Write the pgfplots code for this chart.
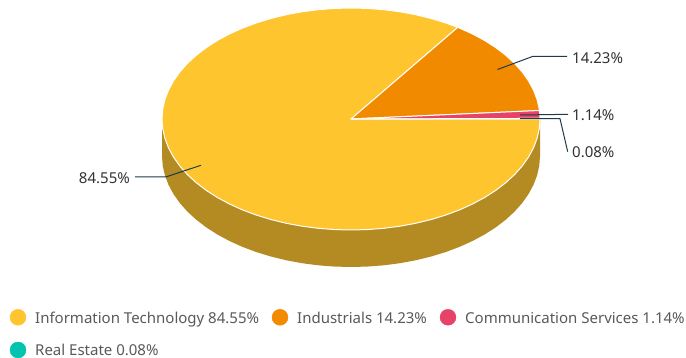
\documentclass[border=0pt]{standalone}
\usepackage{pgfplots}
\usepackage{fontspec}
\setmainfont{Noto Sans}
\pgfplotsset{compat=1.18}
\definecolor{cIT}{HTML}{FFC52E}
\definecolor{cIN}{HTML}{F28A00}
\definecolor{cCS}{HTML}{E64369}
\definecolor{cRE}{HTML}{00C4B0}
\definecolor{cSide}{HTML}{B38B22}
\definecolor{cLead}{HTML}{1F3A4A}
\definecolor{cLab}{HTML}{333333}
\definecolor{cLeg}{HTML}{595959}
\begin{document}
\begin{tikzpicture}
\path[use as bounding box] (0,0) rectangle (686pt,358pt);
\begin{axis}[
  at={(0,0)}, anchor=south west,
  scale only axis, width=686pt, height=358pt,
  xmin=0, xmax=686, ymin=0, ymax=358,
  hide axis, clip=false,
  every axis plot/.append style={line join=round}
]
% side wall
\addplot[fill=cSide, draw=none] coordinates {
(162,239)(162,202)(162.72,192.33)(164.87,182.72)(168.44,173.27)(173.40,164.04)(179.71,155.09)(187.32,146.50)(196.18,138.33)(206.22,130.65)(217.36,123.51)(229.51,116.97)(242.59,111.07)(256.50,105.87)(271.13,101.40)(286.36,97.69)(302.08,94.78)(318.18,92.69)(334.53,91.42)(351,91)(367.47,91.42)(383.82,92.69)(399.92,94.78)(415.64,97.69)(430.87,101.40)(445.50,105.87)(459.41,111.07)(472.49,116.97)(484.64,123.51)(495.78,130.65)(505.82,138.33)(514.68,146.50)(522.29,155.09)(528.60,164.04)(533.56,173.27)(537.13,182.72)(539.28,192.33)(540,202)(540,239)
} --cycle;
% Information Technology
\addplot[fill=cIT, draw=white, line width=1pt] coordinates {
(351,239)(540,239)(539.28,229.33)(537.13,219.72)(533.56,210.27)(528.60,201.04)(522.29,192.09)(514.68,183.50)(505.82,175.33)(495.78,167.65)(484.64,160.51)(472.49,153.97)(459.41,148.07)(445.50,142.87)(430.87,138.40)(415.64,134.69)(399.92,131.78)(383.82,129.69)(367.47,128.42)(351,128)(334.53,128.42)(318.18,129.69)(302.08,131.78)(286.36,134.69)(271.13,138.40)(256.50,142.87)(242.59,148.07)(229.51,153.97)(217.36,160.51)(206.22,167.65)(196.18,175.33)(187.32,183.50)(179.71,192.09)(173.40,201.04)(168.44,210.27)(164.87,219.72)(162.72,229.33)(162,239)(162.72,248.67)(164.87,258.28)(168.44,267.73)(173.40,276.96)(179.71,285.91)(187.32,294.50)(196.18,302.67)(206.22,310.35)(217.36,317.49)(229.51,324.03)(242.59,329.93)(256.50,335.13)(271.13,339.60)(286.36,343.31)(302.08,346.22)(318.18,348.31)(334.53,349.58)(351,350)(367.47,349.58)(383.82,348.31)(399.92,346.22)(415.64,343.31)(430.87,339.60)(445.50,335.13)(457.72,330.62)
} --cycle;
% Industrials
\addplot[fill=cIN, draw=white, line width=1pt] coordinates {
(351,239)(457.72,330.62)(459.41,329.93)(472.49,324.03)(484.64,317.49)(495.78,310.35)(505.82,302.67)(514.68,294.50)(522.29,285.91)(528.60,276.96)(533.56,267.73)(537.13,258.28)(539.28,248.67)(539.45,247.50)
} --cycle;
% Communication Services
\addplot[fill=cCS, draw=white, line width=1pt] coordinates {
(351,239)(539.45,247.50)(539.89,242.87)(540,239.56)
} --cycle;
% Real Estate
\addplot[fill=cRE, draw=white, line width=1pt] coordinates {
(351,239)(540,239.56)(540,239)
} --cycle;
% leader lines
\addplot[cLead, line width=1pt] coordinates {(497.5,288.5)(532.5,301.5)(567,301.5)};
\addplot[cLead, line width=1pt] coordinates {(520,243)(555,243.5)(568,243.5)};
\addplot[cLead, line width=1pt] coordinates {(520,239.3)(560,239.3)(567.7,206.3)};
\addplot[cLead, line width=1pt] coordinates {(201,192.7)(165.7,181)(135,181)};
% legend markers
\addplot[only marks, mark=*, mark size=8pt, mark options={fill=cIT, draw=cIT}] coordinates {(18,40.7)};
\addplot[only marks, mark=*, mark size=8pt, mark options={fill=cIN, draw=cIN}] coordinates {(280,40.7)};
\addplot[only marks, mark=*, mark size=8pt, mark options={fill=cCS, draw=cCS}] coordinates {(448,40.7)};
\addplot[only marks, mark=*, mark size=8pt, mark options={fill=cRE, draw=cRE}] coordinates {(18,8)};
% labels
\tikzset{lab/.style={inner sep=0pt, text=cLab, font=\fontsize{15}{17}\selectfont},
         leg/.style={inner sep=0pt, text=cLeg, font=\fontsize{15}{17}\selectfont, anchor=base west}}
\node[lab, anchor=base west] at (axis cs:572,294.2) {14.23\%};
\node[lab, anchor=base west] at (axis cs:572,237.2) {1.14\%};
\node[lab, anchor=base west] at (axis cs:572,200.2) {0.08\%};
\node[lab, anchor=base east] at (axis cs:130,174.2) {84.55\%};
\node[leg] at (axis cs:35,34.2) {Information Technology 84.55\%};
\node[leg] at (axis cs:297,34.2) {Industrials 14.23\%};
\node[leg] at (axis cs:465,34.2) {Communication Services 1.14\%};
\node[leg] at (axis cs:35,2) {Real Estate 0.08\%};
\end{axis}
\end{tikzpicture}
\end{document}
